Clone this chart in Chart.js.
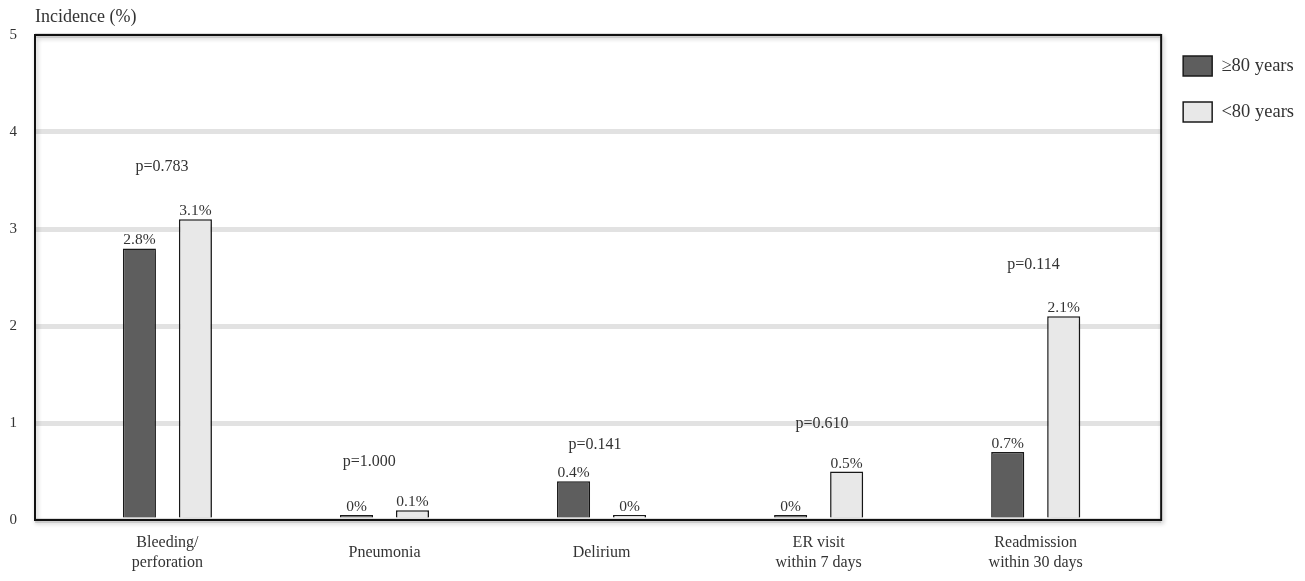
<!DOCTYPE html>
<html>
<head>
<meta charset="utf-8">
<script src="https://cdn.jsdelivr.net/npm/chart.js@4"></script>
<style>
  html, body { margin: 0; padding: 0; background: #fff; }
  #wrap { width: 1305px; height: 581px; position: relative; }
</style>
</head>
<body>
<div id="wrap"><canvas id="c"></canvas></div>
<script>
// ---- data ----
const categories = [["Bleeding/", "perforation"], "Pneumonia", "Delirium", ["ER visit", "within 7 days"], ["Readmission", "within 30 days"]];
const seriesNames = ["\u226580 years", "<80 years"];
const valuesOld = [2.8, 0, 0.4, 0, 0.7];
const valuesYoung = [3.1, 0.1, 0, 0.5, 2.1];
const pValues = ["p=0.783", "p=1.000", "p=0.141", "p=0.610", "p=0.114"];
const pHeights = [3.65, 0.61, 0.78, 1.0, 2.64];
const pShift = [-0.025, -0.07, -0.03, 0.016, -0.01];
const yTicks = [0, 1, 2, 3, 4, 5];
const yTitle = "Incidence (%)";

const FONT = "'Liberation Serif', 'Times New Roman', serif";
const TEXT = '#333333';

const frameShadow = {
  id: 'frameShadow',
  beforeDatasetsDraw(chart) {
    const ctx = chart.ctx;
    ctx.save();
    ctx.shadowColor = 'rgba(0,0,0,0.28)';
    ctx.shadowBlur = 4;
    ctx.shadowOffsetX = 1.5;
    ctx.shadowOffsetY = 2.5;
  },
  afterDatasetsDraw(chart) {
    const ctx = chart.ctx;
    ctx.restore();
    const a = chart.chartArea;
    // frame
    ctx.save();
    ctx.shadowColor = 'rgba(0,0,0,0.28)';
    ctx.shadowBlur = 4;
    ctx.shadowOffsetX = 1.5;
    ctx.shadowOffsetY = 2.5;
    ctx.strokeStyle = '#111';
    ctx.lineWidth = 2;
    ctx.strokeRect(a.left, a.top, a.right - a.left, a.bottom - a.top);
    ctx.restore();

    // labels
    ctx.save();
    ctx.font = '15.5px ' + FONT;
    ctx.fillStyle = TEXT;
    ctx.textAlign = 'center';
    ctx.textBaseline = 'alphabetic';
    chart.data.datasets.forEach((ds, di) => {
      const meta = chart.getDatasetMeta(di);
      meta.data.forEach((bar, i) => {
        const v = ds.data[i].y;
        ctx.fillText(v + '%', bar.x, bar.y - 4);
      });
    });
    const xs = chart.scales.x, ys = chart.scales.y;
    ctx.font = '16px ' + FONT;
    pValues.forEach((p, i) => {
      ctx.fillText(p, xs.getPixelForValue(i + pShift[i]), ys.getPixelForValue(pHeights[i]) + 5);
    });
    ctx.textAlign = 'left';
    ctx.font = '18px ' + FONT;
    ctx.fillText(yTitle, a.left, 22);
    ctx.restore();
  }
};

new Chart(document.getElementById('c'), {
  type: 'bar',
  data: {
    datasets: [
      {
        label: seriesNames[0],
        data: valuesOld.map((v, i) => ({ x: i, y: v })),
        xAxisID: 'x',
        yAxisID: 'y',
        backgroundColor: '#5e5e5e',
        borderColor: '#1a1a1a',
        borderWidth: 1.5,
        minBarLength: 5
      },
      {
        label: seriesNames[1],
        data: valuesYoung.map((v, i) => ({ x: i, y: v })),
        xAxisID: 'x',
        yAxisID: 'y',
        backgroundColor: '#e8e8e8',
        borderColor: '#1a1a1a',
        borderWidth: 1.5,
        minBarLength: 5
      }
    ]
  },
  options: {
    responsive: true,
    maintainAspectRatio: false,
    animation: false,
    categoryPercentage: 0.516,
    barPercentage: 0.59,
    layout: { padding: { top: 30, right: -3, bottom: 0, left: 0 } },
    plugins: {
      legend: {
        position: 'right',
        align: 'start',
        labels: {
          boxWidth: 29,
          boxHeight: 20,
          padding: 26,
          color: TEXT,
          font: { family: FONT, size: 18.5 }
        }
      },
      tooltip: { enabled: false }
    },
    scales: {
      x: {
        type: 'linear',
        min: -0.61,
        max: 4.578,
        offset: false,
        grid: { display: false, drawTicks: false },
        border: { display: false },
        afterBuildTicks: s => { s.ticks = categories.map((c, i) => ({ value: i })); },
        afterFit: s => { s.height = 61; },
        ticks: {
          autoSkip: false,
          maxRotation: 0,
          padding: 23,
          crossAlign: 'center',
          color: TEXT,
          font: { family: FONT, size: 16, lineHeight: 1.25 },
          callback: v => categories[v]
        }
      },
      y: {
        min: 0,
        max: 5,
        afterBuildTicks: s => { s.ticks = yTicks.map(v => ({ value: v })); },
        afterFit: s => { s.width = 35; },
        grid: { color: '#e2e2e2', lineWidth: 5, drawTicks: false },
        border: { display: false },
        ticks: {
          padding: 18,
          color: TEXT,
          font: { family: FONT, size: 15 }
        }
      },
      xTop: {
        type: 'linear',
        axis: 'x',
        position: 'top',
        display: true,
        grid: { display: false, drawTicks: false },
        border: { display: false },
        ticks: { display: false },
        afterFit: s => { s.height = 5; }
      },
      yRight: {
        type: 'linear',
        axis: 'y',
        position: 'right',
        display: true,
        grid: { display: false, drawTicks: false },
        border: { display: false },
        ticks: { display: false },
        afterFit: s => { s.width = -4; }
      }
    }
  },
  plugins: [frameShadow]
});
</script>
</body>
</html>
